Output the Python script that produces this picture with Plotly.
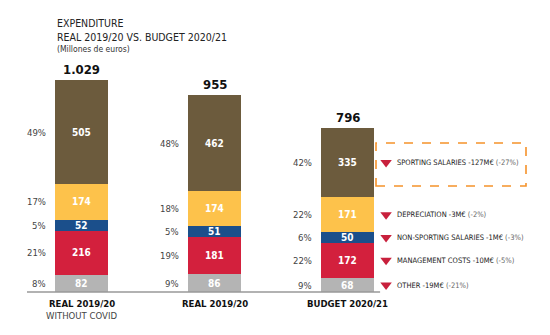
import plotly.graph_objects as go

# ---- data ----
categories = ["REAL 2019/20", "REAL 2019/20", "BUDGET 2020/21"]
subtitles = ["WITHOUT COVID", "", ""]
totals = ["1.029", "955", "796"]
series_names = ["Other", "Management costs", "Non-sporting salaries", "Depreciation", "Sporting salaries"]
other = [82, 86, 68]
management = [216, 181, 172]
non_sporting = [52, 51, 50]
depreciation = [174, 174, 171]
sporting = [505, 462, 335]
pct_other = ["8%", "9%", "9%"]
pct_management = ["21%", "19%", "22%"]
pct_non_sporting = ["5%", "5%", "6%"]
pct_depreciation = ["17%", "18%", "22%"]
pct_sporting = ["49%", "48%", "42%"]
change_labels = ["OTHER -19M€", "MANAGEMENT COSTS -10M€", "NON-SPORTING SALARIES -1M€",
                 "DEPRECIATION -3M€", "SPORTING SALARIES -127M€"]
change_pcts = ["(-21%)", "(-5%)", "(-3%)", "(-2%)", "(-27%)"]

colors = ["#B4B4B4", "#D3203D", "#1B4F8B", "#FDC24B", "#6C5B3D"]
series = [other, management, non_sporting, depreciation, sporting]
pcts = [pct_other, pct_management, pct_non_sporting, pct_depreciation, pct_sporting]

FONT = "Liberation Sans Narrow, DejaVu Sans Condensed, Roboto Condensed, Arial Narrow, sans-serif"
x = [0, 1, 2]
BW = 0.4

fig = go.Figure()
for name, vals, col in zip(series_names, series, colors):
    fig.add_trace(go.Bar(x=x, y=vals, name=name, width=BW, marker=dict(color=col, line=dict(width=0)),
                         hoverinfo="skip", showlegend=False))

ann = []
# segment labels
for i in x:
    base = 0
    for vals, pl in zip(series, pcts):
        mid = base + vals[i] / 2
        ann.append(dict(x=i, y=mid, xref="x", yref="y", text="<b>%d</b>" % vals[i], showarrow=False,
                        font=dict(family=FONT, size=10, color="white"), xanchor="center", yanchor="middle"))
        ann.append(dict(x=i - BW / 2 - 0.05, y=mid, xref="x", yref="y", text=pl[i], showarrow=False,
                        font=dict(family=FONT, size=9.5, color="#444"), xanchor="right", yanchor="middle"))
        base += vals[i]
    ann.append(dict(x=i, y=base, xref="x", yref="y", text="<b>%s</b>" % totals[i], showarrow=False,
                    font=dict(family=FONT, size=13, color="#111"), xanchor="center", yanchor="bottom", yshift=1))
    ann.append(dict(x=i, y=0, xref="x", yref="y", text="<b>%s</b>" % categories[i], showarrow=False,
                    font=dict(family=FONT, size=9.5, color="#111"), xanchor="center", yanchor="top", yshift=-4))
    if subtitles[i]:
        ann.append(dict(x=i, y=0, xref="x", yref="y", text=subtitles[i], showarrow=False,
                        font=dict(family=FONT, size=9.5, color="#444"), xanchor="center", yanchor="top", yshift=-16))

# change annotations for the budget bar
mids = []
base = 0
for vals in series:
    mids.append(base + vals[2] / 2)
    base += vals[2]
fig.add_trace(go.Scatter(x=[2.29] * 5, y=mids, mode="markers",
                         marker=dict(symbol="triangle-down", size=10, color="#C8203C"),
                         hoverinfo="skip", showlegend=False))
for m, lab, pc in zip(mids, change_labels, change_pcts):
    ann.append(dict(x=2.36, y=m, xref="x", yref="y",
                    text=lab + ' <span style="color:#666">' + pc + "</span>", showarrow=False,
                    font=dict(family=FONT, size=7.5, color="#222"), xanchor="left", yanchor="middle"))

# title
ann.append(dict(x=55 / 550, y=1 - 30 / 335, xref="paper", yref="paper",
                text="EXPENDITURE<br>REAL 2019/20 VS. BUDGET 2020/21",
                showarrow=False, font=dict(family=FONT, size=10.5, color="#222"), xanchor="left",
                yanchor="middle", align="left"))
ann.append(dict(x=55 / 550, y=1 - 48.5 / 335, xref="paper", yref="paper", text="(Millones de euros)",
                showarrow=False, font=dict(family=FONT, size=8.5, color="#333"), xanchor="left", yanchor="middle"))

shapes = [
    dict(type="line", xref="x", yref="y", x0=-0.41, x1=2.245, y0=0, y1=0,
         line=dict(color="#999", width=1.5)),
    dict(type="rect", xref="paper", yref="paper", x0=376 / 550, x1=526 / 550,
         y0=1 - 186 / 335, y1=1 - 143 / 335, line=dict(color="#F5922A", width=1.6, dash="dash")),
]

fig.update_layout(
    barmode="stack", width=550, height=335, margin=dict(l=0, r=0, t=0, b=0),
    paper_bgcolor="white", plot_bgcolor="white", bargap=0,
    xaxis=dict(range=[-81.5 / 133, (550 - 81.5) / 133], visible=False, fixedrange=True),
    yaxis=dict(range=[-43 / 0.206, 292 / 0.206], visible=False, fixedrange=True),
    annotations=ann, shapes=shapes,
)
fig.write_html("out.html")
